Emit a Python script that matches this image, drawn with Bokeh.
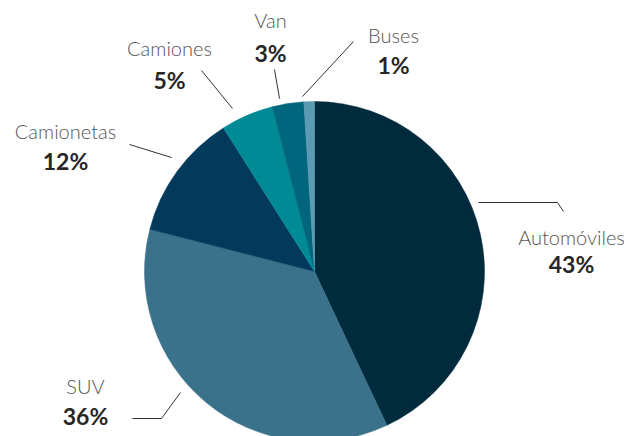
import math
from bokeh.plotting import figure
from bokeh.models import Range1d, ColumnDataSource
from bokeh.core.properties import value
from bokeh.embed import file_html
from bokeh.resources import INLINE

categories = ["Automóviles", "SUV", "Camionetas", "Camiones", "Van", "Buses"]
shares = [43, 36, 12, 5, 3, 1]
pct_labels = ["43%", "36%", "12%", "5%", "3%", "1%"]
colors = ["#002b3c", "#3a718b", "#033a5b", "#008a96", "#00667e", "#5b9ab2"]

W, H = 629, 436
p = figure(width=W, height=H, output_backend="svg", toolbar_location=None,
           x_range=Range1d(0, W), y_range=Range1d(-H, 0),
           min_border=0, outline_line_color=None)
p.axis.visible = False
p.grid.visible = False
p.background_fill_color = "white"
p.border_fill_color = "white"

total = sum(shares)
starts, ends = [], []
cum = 0
for s in shares:
    starts.append(math.pi / 2 - 2 * math.pi * cum / total)
    cum += s
    ends.append(math.pi / 2 - 2 * math.pi * cum / total)

cx, cy, r = 314, -271, 170
src = ColumnDataSource(dict(start=starts, end=ends, color=colors, cat=categories))
p.wedge(x=cx, y=cy, radius=r, start_angle="start", end_angle="end", direction="clock",
        fill_color="color", line_color="color", line_width=0.5, source=src)

# label anchor positions (window px): name baseline, pct baseline
label_pos = {
    "Automóviles": (571, 236, 263),
    "SUV": (85, 385, 415),
    "Camionetas": (65, 130, 160),
    "Camiones": (169, 47, 79),
    "Van": (270, 19, 52),
    "Buses": (393, 34, 64),
}
lx = [label_pos[c][0] for c in categories]
ny = [-label_pos[c][1] for c in categories]
py = [-label_pos[c][2] for c in categories]

p.text(x=lx, y=ny, text=categories, text_align="center", text_baseline="alphabetic",
       text_font=value("'Lato Light', Lato"), text_font_size="20px", text_color="#555555")
p.text(x=lx, y=py, text=pct_labels, text_align="center", text_baseline="alphabetic",
       text_font=value("Lato"), text_font_style="bold", text_font_size="23px", text_color="#262626")

leaders = [
    [(478, 202), (557, 202), (563, 211)],
    [(132, 418), (161, 418), (180, 392)],
    [(129, 144), (171, 157)],
    [(201, 70), (232, 108)],
    [(274, 69), (279, 98)],
    [(353, 41), (302, 96)],
]
for pts in leaders:
    p.line([a for a, b in pts], [-b for a, b in pts], line_color="#333333", line_width=1)

open("out.html", "w").write(file_html(p, INLINE))
